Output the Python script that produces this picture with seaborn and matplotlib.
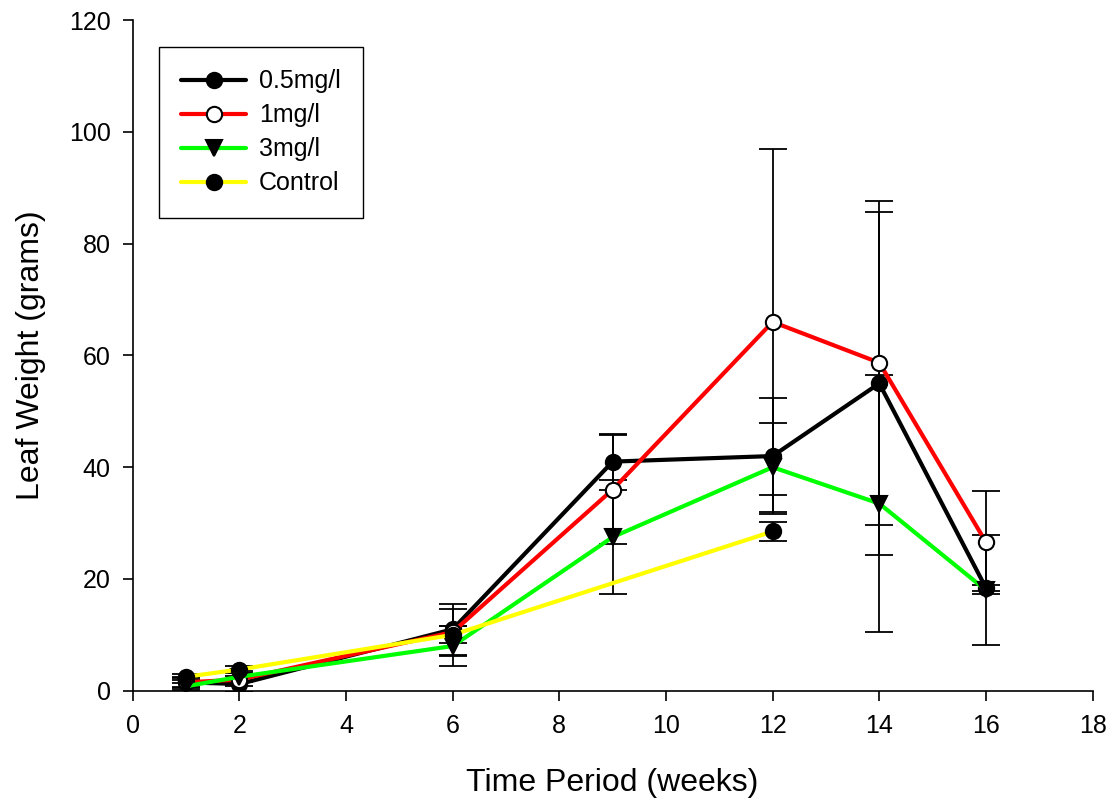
import numpy as np
import pandas as pd
import seaborn as sns
import matplotlib.pyplot as plt

# data
weeks = [1, 2, 6, 9, 12, 14, 16]
control_weeks = [1, 2, 6, 12]

w05 = [1.5, 1.2, 11.0, 41.0, 42.0, 55.0, 18.4]
w05_err = [1.0, 1.5, 4.6, 5.0, 10.3, 30.7, 0.6]

w1 = [1.5, 2.0, 10.5, 36.0, 66.0, 58.7, 26.6]
w1_err = [0.8, 1.2, 4.2, 9.8, 31.0, 29.0, 9.2]

w3 = [0.8, 2.5, 8.0, 27.5, 40.0, 33.5, 18.0]
w3_err = [0.6, 1.0, 3.5, 10.2, 8.0, 23.0, 9.8]

control = [2.5, 3.8, 10.0, 28.5]
control_err = [0.5, 0.6, 1.5, 1.7]

sns.set_style("ticks")
plt.rcParams['font.family'] = ['Liberation Sans', 'DejaVu Sans']
plt.rcParams.update({'text.color': 'black', 'axes.labelcolor': 'black',
                     'xtick.color': 'black', 'ytick.color': 'black'})

fig = plt.figure(figsize=(11.16, 8.06), dpi=100)
ax = fig.add_axes([0.119, 0.143, 0.860, 0.832])

series = [
    ("0.5mg/l", weeks, w05, w05_err, "black", "o", "black"),
    ("1mg/l", weeks, w1, w1_err, "#ff0000", "o", "white"),
    ("3mg/l", weeks, w3, w3_err, "#00ff00", "v", "black"),
    ("Control", control_weeks, control, control_err, "#ffff00", "o", "black"),
]

# error bars first
for name, x, y, err, col, mk, fc in series:
    ax.errorbar(x, y, yerr=err, fmt="none", ecolor="black", elinewidth=1.3,
                capsize=10, capthick=1.3, zorder=2)

for name, x, y, err, col, mk, fc in series:
    df = pd.DataFrame({"week": x, "weight": y})
    sns.lineplot(data=df, x="week", y="weight", ax=ax, color=col, linewidth=3,
                 marker=mk, markersize=11, markerfacecolor=fc,
                 markeredgecolor="black", markeredgewidth=1.5, label=name,
                 zorder=3)

ax.set_xlim(0, 18)
ax.set_ylim(0, 120)
ax.set_xticks(np.arange(0, 19, 2))
ax.set_yticks(np.arange(0, 121, 20))
ax.tick_params(axis="both", labelsize=18, length=7, width=1.2, direction="out")
ax.tick_params(axis="x", pad=10)
ax.tick_params(axis="y", pad=9)
ax.set_xlabel("Time Period (weeks)", fontsize=23, labelpad=21)
ax.set_ylabel("Leaf Weight (grams)", fontsize=23, labelpad=16)
sns.despine(ax=ax)
for s in ["left", "bottom"]:
    ax.spines[s].set_color("black")
    ax.spines[s].set_linewidth(1.2)

leg = ax.legend(loc="upper left", bbox_to_anchor=(0.027, 0.96), fontsize=18,
                frameon=True, fancybox=False, framealpha=1, edgecolor="black",
                handlelength=2.6, borderpad=0.9, labelspacing=0.4,
                handletextpad=0.5, borderaxespad=0)
leg.get_frame().set_linewidth(1.0)

fig.savefig("out.png", dpi=100)
